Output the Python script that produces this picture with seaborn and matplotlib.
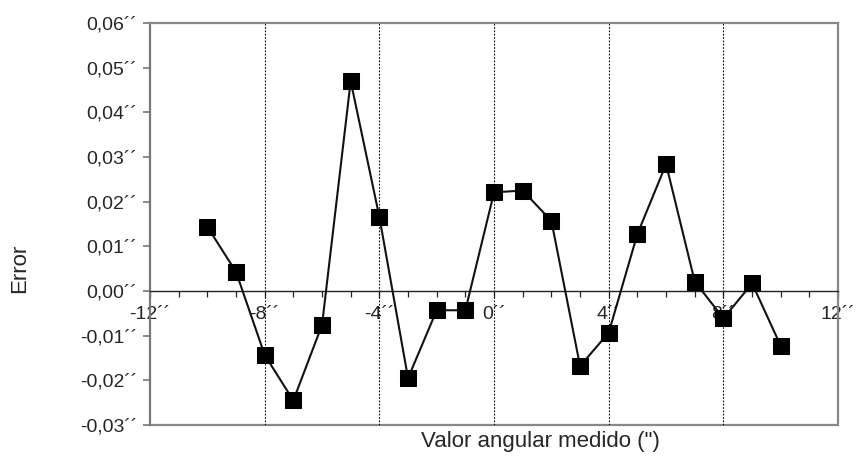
import matplotlib
matplotlib.use("Agg")
import matplotlib.pyplot as plt
from matplotlib.ticker import MultipleLocator, FuncFormatter
import seaborn as sns
import pandas as pd

# Measured angle (arc-seconds) and the corresponding error
angulo = [-10, -9, -8, -7, -6, -5, -4, -3, -2, -1, 0, 1, 2, 3, 4, 5, 6, 7, 8, 9, 10]
error = [0.0144, 0.0043, -0.0143, -0.0245, -0.0076, 0.0470, 0.0166, -0.0195,
         -0.0043, -0.0043, 0.0221, 0.0225, 0.0157, -0.0168, -0.0093, 0.0128,
         0.0284, 0.0021, -0.0061, 0.0017, -0.0123]

x_ticks = [-12, -8, -4, 0, 4, 8, 12]
y_ticks = [0.06, 0.05, 0.04, 0.03, 0.02, 0.01, 0.00, -0.01, -0.02, -0.03]

sns.set_style("white")
plt.rcParams["font.family"] = ["Liberation Sans", "DejaVu Sans"]

df = pd.DataFrame({"angulo": angulo, "error": error})

fig = plt.figure(figsize=(8.57, 4.61), dpi=100)
ax = fig.add_axes([0.175, 0.078, 0.803, 0.872])

ax.set_xlim(-12, 12)
ax.set_ylim(-0.03, 0.06)

# dotted vertical guides at the labelled x positions
for xv in x_ticks[1:-1]:
    ax.axvline(xv, color="black", linestyle=(0, (1.5, 1.5)), linewidth=0.8, zorder=1)

sns.lineplot(data=df, x="angulo", y="error", ax=ax, color="#111111",
             linewidth=1.5, marker="s", markersize=11, markeredgecolor="black",
             markerfacecolor="black", zorder=3)

gray = "#888888"
for side in ["top", "right", "left"]:
    ax.spines[side].set_visible(True)
    ax.spines[side].set_color(gray)
    ax.spines[side].set_linewidth(1.6)
ax.spines["left"].set_color("#777777")

# horizontal axis crosses at zero
ax.spines["bottom"].set_position(("data", 0))
ax.spines["bottom"].set_color("#222222")
ax.spines["bottom"].set_linewidth(1.0)
ax.plot([0, 1], [0, 0], transform=ax.transAxes, color=gray, linewidth=1.6,
        clip_on=False, zorder=0)

ax.xaxis.set_minor_locator(MultipleLocator(1))
ax.set_xticks(x_ticks)
ax.xaxis.set_major_formatter(FuncFormatter(lambda v, p: f"{int(round(v))}\u00b4\u00b4"))
ax.tick_params(axis="x", which="both", direction="out", length=4, width=0.9,
               color="#222222", labelsize=14, pad=7, bottom=True)

ax.set_yticks(y_ticks)
ax.yaxis.set_major_formatter(
    FuncFormatter(lambda v, p: f"{v:.2f}".replace(".", ",").replace("-0,00", "0,00") + "\u00b4\u00b4"))
ax.tick_params(axis="y", which="major", direction="out", length=5, width=1.2,
               color="#777777", labelsize=14, pad=4, left=True)

ax.set_xlabel("Valor angular medido (\")", fontsize=16)
ax.xaxis.set_label_coords(0.568, -0.015)
ax.set_ylabel("Error", fontsize=16)
ax.yaxis.set_label_coords(-0.174, 0.39)

fig.savefig("out.png", dpi=100)
